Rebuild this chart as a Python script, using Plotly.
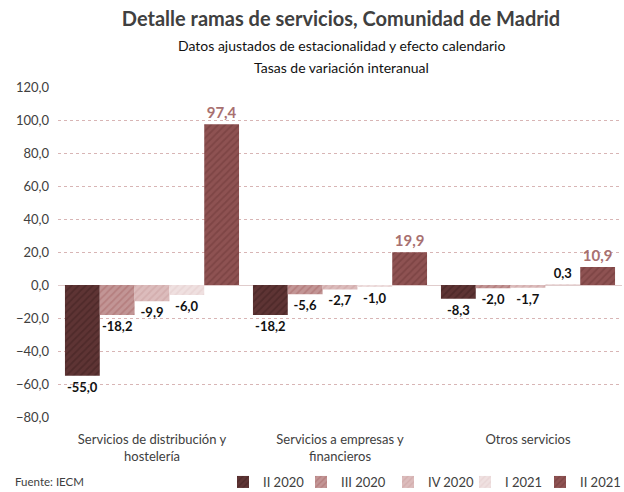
import plotly.graph_objects as go

categories = ["Servicios de distribución y<br>hostelería", "Servicios a empresas y<br>financieros", "Otros servicios"]
series_names = ["II 2020", "III 2020", "IV 2020", "I 2021", "II 2021"]
values_II2020 = [-55.0, -18.2, -8.3]
values_III2020 = [-18.2, -5.6, -2.0]
values_IV2020 = [-9.9, -2.7, -1.7]
values_I2021 = [-6.0, -1.0, 0.3]
values_II2021 = [97.4, 19.9, 10.9]
y_ticks = [-80, -60, -40, -20, 0, 20, 40, 60, 80, 100, 120]

series_values = [values_II2020, values_III2020, values_IV2020, values_I2021, values_II2021]
bg_colors = ["#5e3434", "#c29595", "#dcbcbc", "#efe0e0", "#8e5252"]
fg_colors = ["#3f2020", "#a86a6a", "#caa0a0", "#e3cccc", "#6e3838"]
legend_px = [223, 301, 388, 465, 540]

def fmt(v):
    return f"{v:.1f}".replace(".", ",")

W, H = 624, 492
L, R, T, B = 58, 2, 87, 75
pw, ph = W - L - R, H - T - B

def px_x(x):
    return (x - L) / pw

def px_y(y):
    return (H - B - y) / ph

fig = go.Figure()
legend_layouts = {}
for i, (name, vals) in enumerate(zip(series_names, series_values)):
    is_last = i == len(series_names) - 1
    lname = "legend" if i == 0 else f"legend{i + 1}"
    legend_layouts[lname] = dict(orientation="h", x=px_x(legend_px[i]), xanchor="left",
                                 y=px_y(482), yanchor="middle", itemwidth=30,
                                 bgcolor="rgba(0,0,0,0)", borderwidth=0,
                                 font=dict(size=13, color="#404040"))
    fig.add_trace(go.Bar(
        name=name, x=categories, y=vals,
        text=[fmt(v) for v in vals],
        textposition="outside",
        cliponaxis=False,
        legend=lname,
        textfont=dict(family="Lato", size=15 if is_last else 13,
                      color="#a87070" if is_last else "#111111", weight="bold"),
        marker=dict(color=bg_colors[i], line=dict(width=0),
                    pattern=dict(shape="/", fgcolor=fg_colors[i], bgcolor=bg_colors[i],
                                 size=5, solidity=0.35)),
    ))

fig.update_layout(
    width=W, height=H,
    barmode="group", bargap=0.074, bargroupgap=0,
    plot_bgcolor="white", paper_bgcolor="white",
    separators=",.",
    font=dict(family="Lato", size=13, color="#404040"),
    margin=dict(l=L, r=R, t=T, b=B, autoexpand=False),
    title=dict(text="<b>Detalle ramas de servicios, Comunidad de Madrid</b>",
               x=341 / W, xanchor="center", y=1 - 19 / H, yanchor="middle",
               font=dict(size=20, color="#404040")),
    annotations=[
        dict(text="Datos ajustados de estacionalidad y efecto calendario", x=px_x(341), y=px_y(46),
             xref="paper", yref="paper", showarrow=False, yanchor="middle",
             font=dict(size=14, color="#111111")),
        dict(text="Tasas de variación interanual", x=px_x(341), y=px_y(67),
             xref="paper", yref="paper", showarrow=False, yanchor="middle",
             font=dict(size=14, color="#111111")),
        dict(text="Fuente: IECM", x=px_x(13), y=px_y(481), xref="paper", yref="paper",
             showarrow=False, xanchor="left", yanchor="middle",
             font=dict(size=11.5, color="#404040")),
    ],
    showlegend=True,
    **legend_layouts,
)

fig.update_yaxes(range=[-80, 120], tickvals=y_ticks, tickformat=".1f", automargin=False,
                 showgrid=True, gridcolor="#d8b5b5", griddash="dot", gridwidth=1,
                 zeroline=True, zerolinecolor="#e0cccc", zerolinewidth=1,
                 ticklabelstandoff=8,
                 showline=False, ticks="", tickfont=dict(size=13, color="#404040"))
fig.update_xaxes(showline=False, ticks="", automargin=False, ticklabelstandoff=13,
                 tickfont=dict(size=13, color="#404040"))

fig.write_html("out.html", post_script="document.body.style.margin='0';",
               config={"displayModeBar": False})
